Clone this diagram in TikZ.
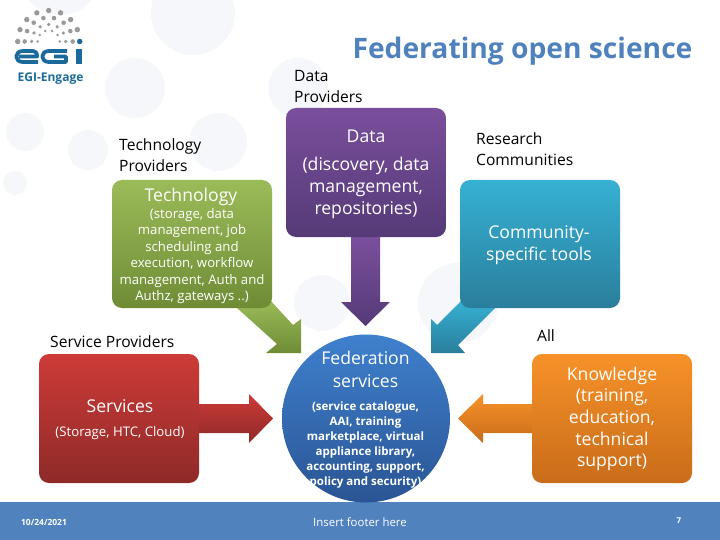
\documentclass[tikz,border=0pt]{standalone}
\usepackage{fontspec}
\setmainfont{Open Sans}
\begin{document}
\begin{tikzpicture}[x=1pt,y=-1pt,
  bgdot/.style={fill=bgc,draw=none},
  blockbox/.style={draw=none,rounded corners=10pt},
  lab/.style={text=black,align=left,anchor=north west,inner sep=0pt,font=\fontsize{15.6}{21.3}\selectfont},
  wt/.style={text=white,align=center,inner sep=0pt,font=\fontsize{17.6}{21.7}\selectfont},
  wts/.style={text=white,align=center,inner sep=0pt,font=\fontsize{13.2}{16.4}\selectfont},
  grn/.style={top color=gT,bottom color=gB},
  pur/.style={top color=pT,bottom color=pB},
  tea/.style={top color=tT,bottom color=tB},
  redd/.style={top color=rT,bottom color=rB},
  org/.style={top color=oT,bottom color=oB},
  logod/.style={fill=logoG,draw=none}]
\definecolor{bgc}{HTML}{F5F7FA}
\definecolor{gT}{HTML}{9BBB59}\definecolor{gB}{HTML}{6F8C35}
\definecolor{pT}{HTML}{7A4F9C}\definecolor{pB}{HTML}{553A77}
\definecolor{tT}{HTML}{36B1D3}\definecolor{tB}{HTML}{2A7E9C}
\definecolor{rT}{HTML}{CD3B38}\definecolor{rB}{HTML}{8E2A28}
\definecolor{oT}{HTML}{F79229}\definecolor{oB}{HTML}{C96C1A}
\definecolor{cT}{HTML}{3F80CD}\definecolor{cB}{HTML}{2A5594}
\definecolor{foot}{HTML}{5082BE}
\definecolor{titlec}{HTML}{4F81BD}
\definecolor{egib}{HTML}{1B6A9C}
\definecolor{logoG}{HTML}{9A9A9A}
\useasboundingbox (0,0) rectangle (720,540);
\fill[white] (0,0) rectangle (720,540);
% background dots
\foreach \x/\y/\r in {60/-25/40,193/13/42,135/88/30,25/132/19,88/150/20,218/142/29,15/183/12,298/88/30,322/303/28,458/303/40}
  \fill[bgdot] (\x,\y) circle (\r);
% arrows
\shade[grn] (237,308) -- (270,300) -- (293,325) -- (301,319) -- (301,353) -- (266,353) -- (277,344) -- cycle;
\shade[pur] (351,237) -- (380,237) -- (380,302) -- (390,302) -- (365.5,326) -- (341,302) -- (351,302) -- cycle;
\shade[tea] (462,300) -- (495,308) -- (458,345) -- (465,353) -- (431,353) -- (431,319) -- (437,325) -- cycle;
\shade[redd] (199,404) -- (249,404) -- (249,394) -- (273,418.5) -- (249,443) -- (249,433) -- (199,433) -- cycle;
\shade[org] (532,404) -- (483,404) -- (483,394) -- (458,418.5) -- (483,443) -- (483,433) -- (532,433) -- cycle;
% footer
\fill[foot] (0,502) rectangle (720,540);
% boxes
\node[blockbox,grn,minimum width=160pt,minimum height=128pt,inner sep=0pt] (tech) at (192,244) {};
\node[blockbox,pur,minimum width=160pt,minimum height=129pt,inner sep=0pt] (data) at (366,172.5) {};
\node[blockbox,tea,minimum width=160pt,minimum height=128pt,inner sep=0pt] (comm) at (540,244) {};
\node[blockbox,redd,minimum width=160pt,minimum height=129pt,inner sep=0pt] (serv) at (119,418.5) {};
\node[blockbox,org,minimum width=160pt,minimum height=129pt,inner sep=0pt] (know) at (612,418.5) {};
\node[circle,top color=cT,bottom color=cB,minimum size=168pt,inner sep=0pt] (fed) at (366,418.5) {};
% labels
\node[lab] (l1) at (119,138) {Technology\\Providers};
\node[lab] (l2) at (294,70) {Data\\Providers};
\node[lab] (l3) at (476,132) {Research\\Communities};
\node[lab,anchor=west] (l4) at (50,341.5) {Service Providers};
\node[lab,anchor=center] (l5) at (546,335.5) {All};
\node[inner sep=0pt,font=\fontsize{28.2}{32}\selectfont\bfseries,text=titlec] (title) at (522.5,51) {Federating open science};
% inside text
\node[wt] (t1) at (191,197) {Technology};
\node[wts] (t2) at (192,256) {(storage, data\\management, job\\scheduling and\\execution, workflow\\management, Auth and\\Authz, gateways ..)};
\node[wt] (t3) at (366,136.5) {Data};
\node[wt] (t4) at (366,188) {(discovery, data\\management,\\repositories)};
\node[wt] (t5) at (539,245) {Community-\\specific tools};
\node[wt] (t6) at (120,406) {Services};
\node[wts] (t7) at (120,433.5) {(Storage, HTC, Cloud)};
\node[wt,font=\fontsize{17.6}{23}\selectfont] (t8) at (365.5,369) {Federation\\services};
\node[wts,font=\bfseries\fontsize{11.5}{15}\selectfont] (t9) at (365.5,445.5) {(service catalogue,\\AAI, training\\marketplace, virtual\\appliance library,\\accounting, support,\\policy and security)};
\node[wt] (t10) at (612,419) {Knowledge\\(training,\\education,\\technical\\support)};
% footer text
\node[text=white,inner sep=0pt,font=\bfseries\fontsize{8.5}{10}\selectfont] (d) at (44,522) {10/24/2021};
\node[text=white,inner sep=0pt,font=\fontsize{11.4}{14}\selectfont] (f) at (360,522.5) {Insert footer here};
\node[text=white,inner sep=0pt,font=\bfseries\fontsize{8}{10}\selectfont] (n) at (679,521) {7};
% logo dots
\foreach \r/\s/\n in {31/2.7/8,24/2.3/7,17/1.8/6,11/1.4/5}{
  \foreach \i in {0,...,\n}{
    \fill[logod] ({48.7+\r*cos(180-180*\i/\n)},{41.5-\r*sin(180-180*\i/\n)}) circle (\s);
  }
}
\fill[egib] (79.7,41.5) circle (2.7);
% logo letters
\begin{scope}[draw=egib,line width=3.8pt,line cap=butt,line join=round]
\draw (38,62) -- (23,62) .. controls (14,62) and (14,51) .. (23,51) -- (33,51) .. controls (36,51) and (37,53) .. (37,56.5) -- (19,56.5);
\draw (67,51) -- (49,51) .. controls (40,51) and (40,62) .. (49,62) -- (66,62) -- (66,56.5) -- (54,56.5);
\end{scope}
\fill[egib] (76,49) rectangle (82,64);
\node[text=egib,inner sep=0pt,font=\bfseries\fontsize{12}{14}\selectfont] (eng) at (50.5,79) {EGI-Engage};
\end{tikzpicture}
\end{document}
